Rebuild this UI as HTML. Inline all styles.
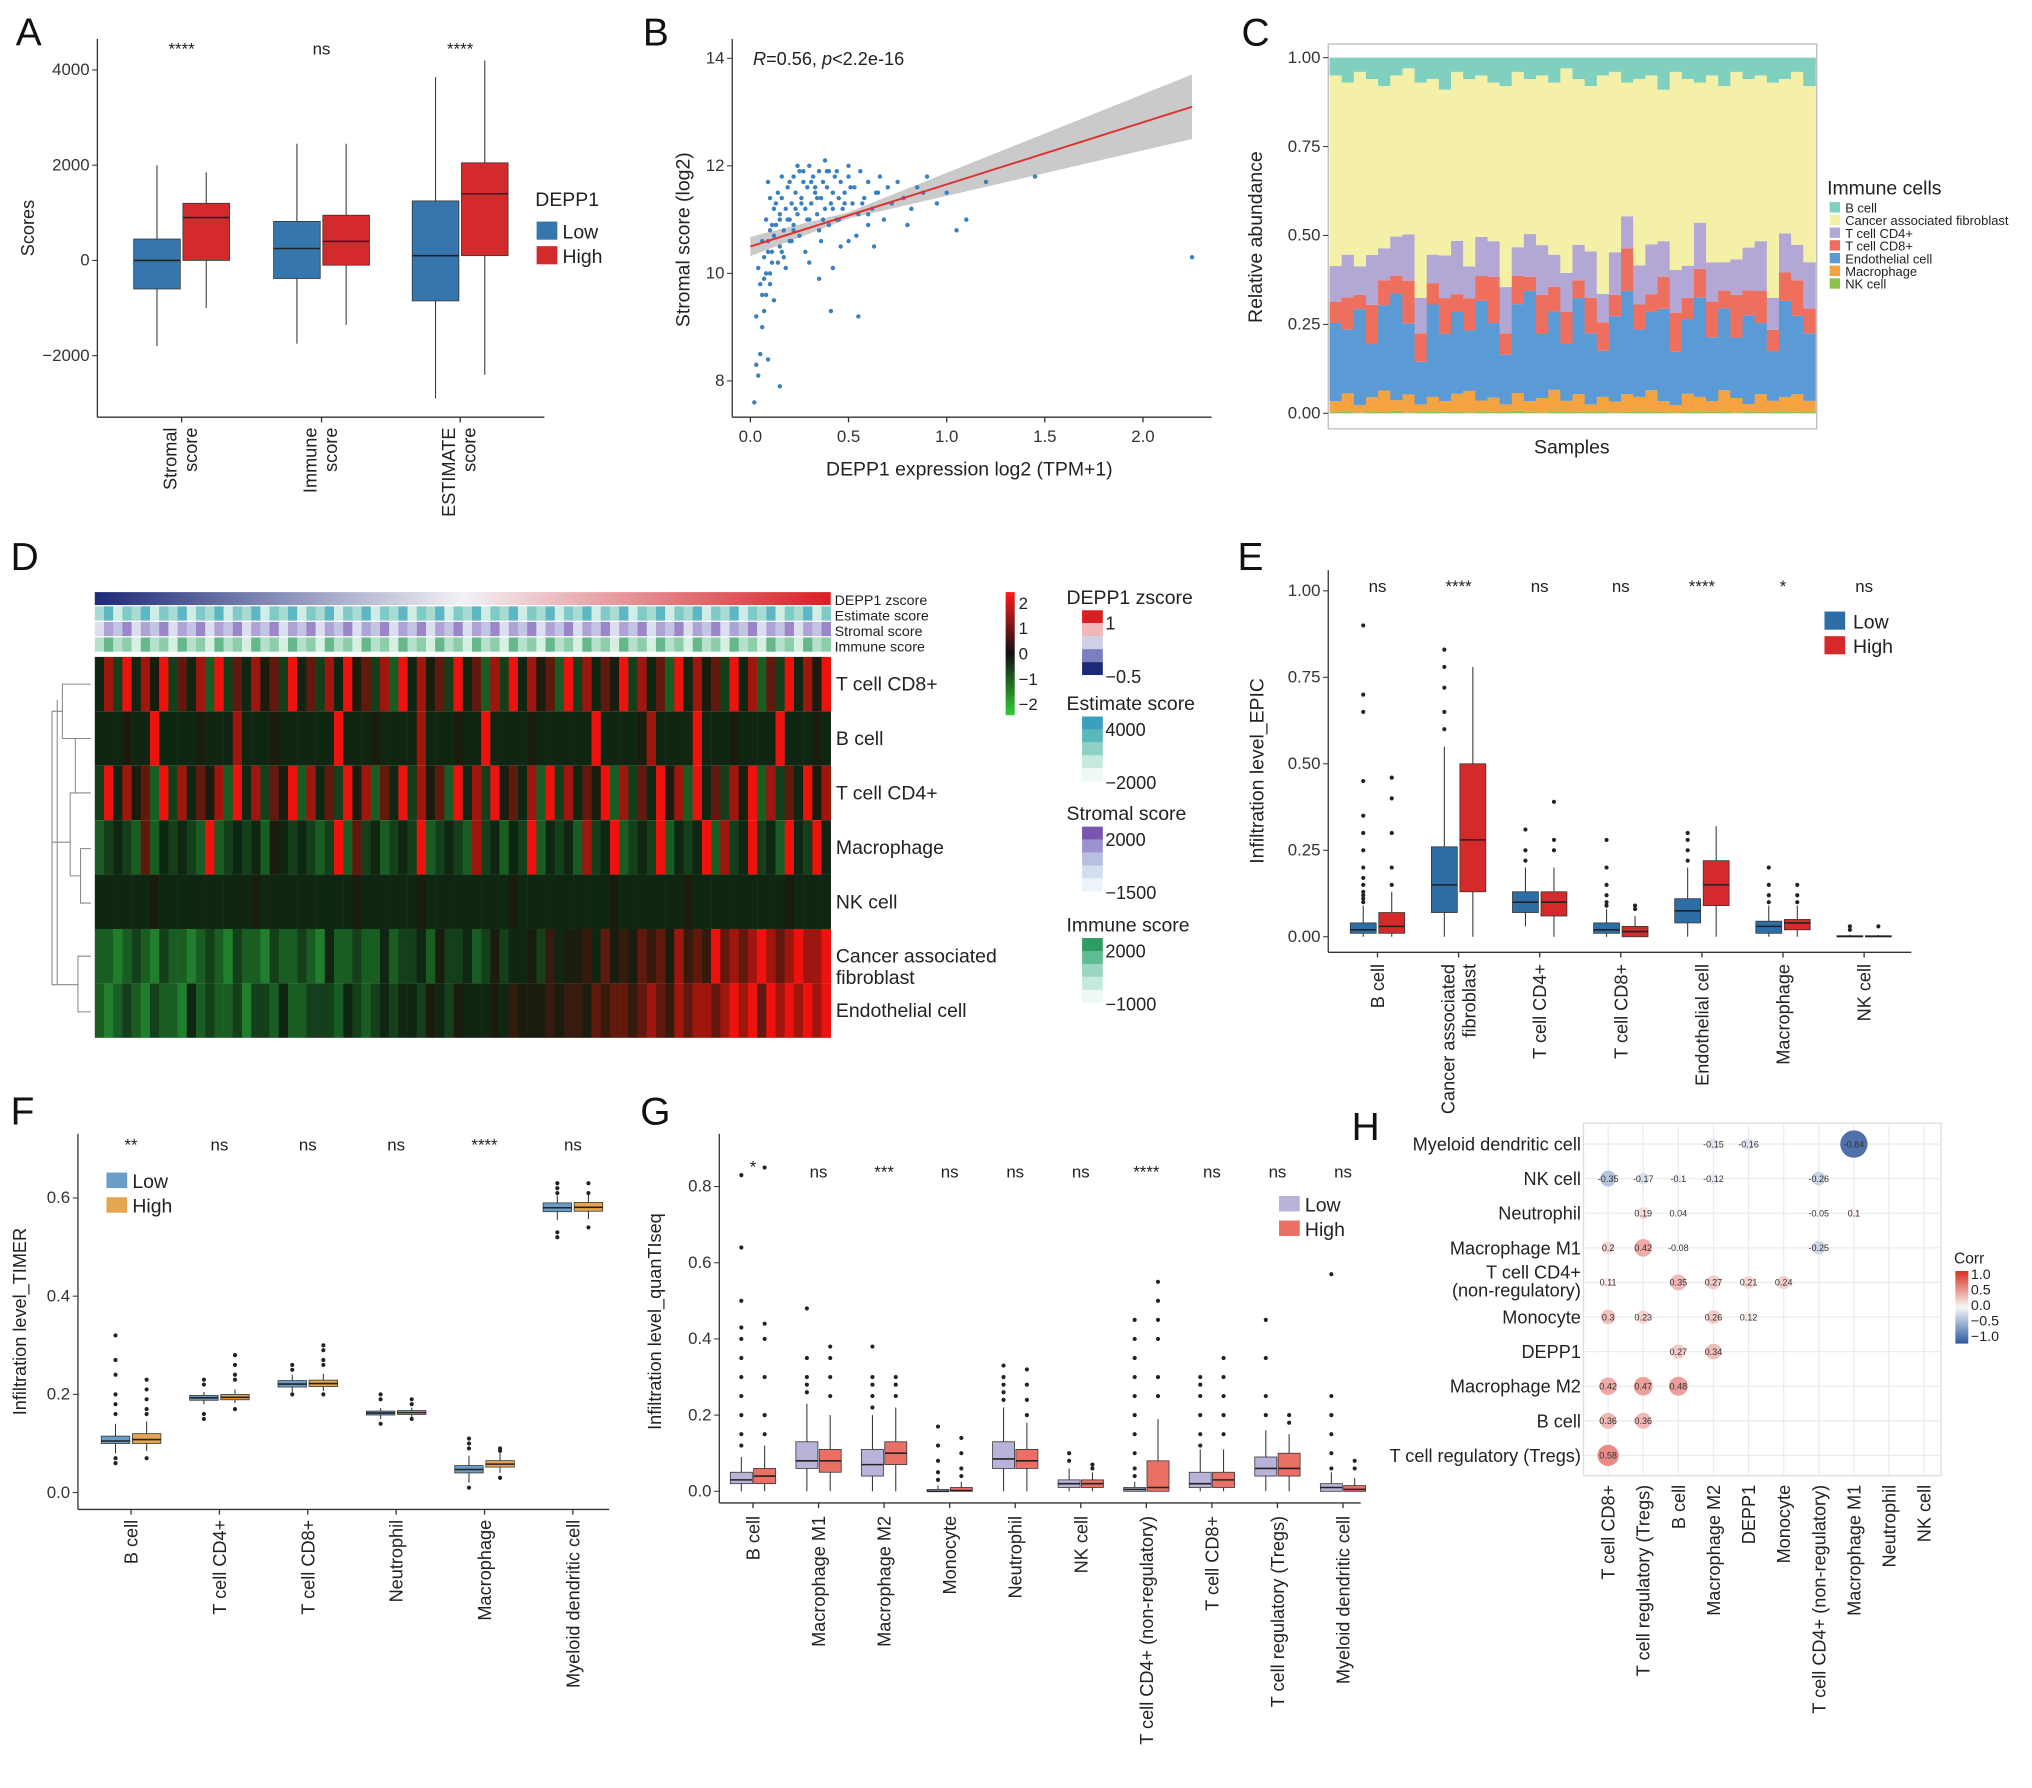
<!DOCTYPE html>
<html><head><meta charset="utf-8">
<style>
html,body{margin:0;padding:0;background:#fff;}
svg{display:block;font-family:"Liberation Sans",Arial,sans-serif;}
</style></head>
<body>
<svg id="fig" width="2032" height="1788" viewBox="0 0 1568 1380" xmlns="http://www.w3.org/2000/svg"></svg>
<script>
// ---------- DATA ----------
// Panel A
const aCats=["Stromal score","Immune score","ESTIMATE score"];
const aSig=["****","ns","****"];
const aLow=[[-1800,-600,0,450,2000],[-1750,-380,250,820,2450],[-2900,-850,100,1250,3850]];
const aHigh=[[-1000,0,900,1200,1850],[-1350,-100,400,950,2450],[-2400,100,1400,2050,4200]];
const aTicks=[-2000,0,2000,4000];
// Panel B
const bX=[0.02,0.04,0.05,0.06,0.07,0.08,0.09,0.1,0.1,0.11,0.12,0.12,0.13,0.14,0.15,0.15,0.16,0.17,0.18,0.18,0.19,0.2,0.2,0.21,0.22,0.22,0.23,0.24,0.25,0.25,0.26,0.27,0.28,0.28,0.29,0.3,0.3,0.31,0.32,0.33,0.34,0.35,0.35,0.36,0.37,0.38,0.39,0.4,0.4,0.41,0.42,0.43,0.44,0.45,0.46,0.47,0.48,0.5,0.5,0.52,0.53,0.55,0.56,0.58,0.6,0.62,0.63,0.65,0.66,0.68,0.7,0.72,0.75,0.78,0.8,0.82,0.85,0.88,0.9,0.95,1.0,1.05,1.1,1.2,1.45,2.25,0.03,0.05,0.07,0.09,0.11,0.13,0.15,0.17,0.19,0.21,0.23,0.26,0.29,0.31,0.34,0.37,0.39,0.42,0.45,0.48,0.51,0.54,0.57,0.6,0.64,0.03,0.06,0.08,0.1,0.12,0.14,0.16,0.2,0.24,0.27,0.33,0.38,0.44,0.5,0.07,0.09,0.11,0.13,0.04,0.06,0.08,0.1,0.16,0.22,0.3,0.36,0.41,0.46,0.55,0.35,0.42,0.6,0.15,0.09];
const bY=[7.6,8.1,8.5,9.0,9.3,9.6,8.4,10.0,9.8,10.4,10.7,9.5,10.9,10.2,11.1,10.5,11.4,10.8,11.2,10.1,11.6,11.0,10.6,11.3,11.8,10.9,11.5,11.1,11.9,10.7,11.4,11.7,11.2,10.4,11.6,12.0,11.0,11.3,11.8,11.5,11.1,11.9,10.8,11.4,11.7,11.2,11.6,11.9,10.9,11.3,11.5,11.8,11.0,11.4,11.7,11.2,11.5,11.8,10.6,11.3,11.6,11.1,11.9,11.4,11.7,11.2,10.5,11.5,11.8,11.0,11.6,11.3,11.7,11.4,10.9,11.2,11.6,11.5,11.8,11.3,11.5,10.8,11.0,11.7,11.8,10.3,9.2,9.8,10.3,10.6,10.2,10.9,11.0,10.3,11.0,10.6,11.2,11.3,11.0,11.7,11.4,11.0,11.9,11.2,11.0,11.3,11.6,10.7,11.3,11.1,11.5,8.3,9.6,10.0,10.8,11.2,11.5,11.8,11.7,12.0,11.9,11.6,12.1,11.9,12.0,9.9,10.4,10.9,11.3,10.1,10.6,11.0,11.4,10.4,10.8,10.2,10.6,9.3,10.5,9.2,9.9,10.1,10.9,7.9,11.7];
const bXTicks=[0.0,0.5,1.0,1.5,2.0];
const bYTicks=[8,10,12,14];
// Panel C
const cNK=[.004,.006,.003,.005,.004,.007,.003,.005,.006,.004,.005,.003,.006,.004,.005,.007,.004,.003,.006,.005,.004,.005,.006,.003,.004,.006,.005,.004,.003,.005,.006,.004,.005,.003,.006,.004,.005,.006,.004,.005];
const cMac=[.03,.05,.02,.04,.06,.03,.05,.02,.04,.03,.05,.06,.03,.04,.02,.05,.03,.04,.06,.03,.05,.02,.04,.03,.05,.04,.06,.03,.02,.05,.04,.03,.06,.04,.02,.05,.03,.04,.05,.03];
const cEndo=[.22,.18,.27,.15,.24,.3,.2,.12,.26,.19,.23,.17,.28,.21,.14,.25,.31,.18,.22,.16,.27,.2,.13,.24,.29,.19,.22,.26,.15,.21,.28,.18,.23,.17,.25,.2,.14,.27,.22,.19];
const cCD8=[.06,.09,.04,.11,.07,.05,.12,.08,.06,.1,.05,.09,.07,.13,.06,.08,.04,.11,.07,.09,.05,.1,.08,.06,.12,.07,.05,.09,.11,.06,.08,.1,.05,.12,.07,.09,.06,.08,.1,.07];
const cCD4=[.1,.12,.08,.14,.09,.11,.13,.1,.08,.12,.15,.09,.11,.1,.13,.08,.12,.14,.09,.11,.1,.13,.08,.12,.09,.11,.14,.1,.12,.09,.13,.11,.08,.1,.12,.14,.09,.11,.1,.13];
const cB=[.05,.07,.04,.06,.08,.05,.03,.07,.06,.09,.04,.06,.05,.07,.08,.04,.06,.05,.07,.03,.06,.08,.05,.04,.07,.06,.05,.09,.04,.06,.07,.05,.08,.04,.06,.05,.07,.06,.04,.08];
const cYTicks=[0,0.25,0.5,0.75,1.0];
const cLegend=["B cell","Cancer associated fibroblast","T cell CD4+","T cell CD8+","Endothelial cell","Macrophage","NK cell"];
// Panel D heatmap
const dRows=["T cell CD8+","B cell","T cell CD4+","Macrophage","NK cell","Cancer associated fibroblast","Endothelial cell"];
const dCells=[
"48394859374829374857394738495738294857394728394857293847593847294857394827394859",
"44454494444544484445444444944454444844454494444544444494444584444944454444944454",
"39485729384758294837592847395827493857294839574829384759283749582947385928374958",
"23432724343292343425434323927342343923432834243924342834923439243492834934294394",
"44444454444444444544444444445444444544444444454444444444544444445444444444454444",
"22123213221232132213223214223224233425334235344536455647565767586769787898789889",
"21232132214232231332422333243234344354354445465556566576776787687887898979898989"];
const dEst="35243524352435243524352435243524352435243524352435243524352435243524352435243524";
const dStr="24352435243524352435243524352435243524352435243524352435243524352435243524352435";
const dImm="35342534253425342534253425342534253425342534253425342534253425342534253425342534";
// Panel E
const eCats=["B cell","Cancer associated\nfibroblast","T cell CD4+","T cell CD8+","Endothelial cell","Macrophage","NK cell"];
const eSig=["ns","****","ns","ns","****","*","ns"];
const eLow=[[0,.01,.02,.04,.09],[0,.07,.15,.26,.55],[.03,.07,.1,.13,.2],[0,.01,.02,.04,.08],[0,.04,.075,.11,.2],[0,.01,.03,.045,.09],[0,0,.001,.003,.005]];
const eHigh=[[0,.01,.03,.07,.13],[0,.13,.28,.5,.78],[0,.06,.1,.13,.2],[0,0,.015,.03,.06],[0,.09,.15,.22,.32],[0,.02,.04,.05,.09],[0,0,.001,.003,.005]];
const eOutLow=[[.9,.7,.65,.45,.35,.3,.25,.2,.17,.15,.13,.12,.11,.1],[.83,.78,.72,.65,.6],[.31,.25,.22],[.28,.2,.15,.12,.1,.09],[.3,.28,.25,.22],[.2,.15,.12,.1],[.03,.02]];
const eOutHigh=[[.46,.4,.3,.2,.15],[],[.39,.28,.25],[.09,.08],[],[.15,.12,.1],[.03]];
const eTicks=[0,.25,.5,.75,1.0];
// Panel F
const fCats=["B cell","T cell CD4+","T cell CD8+","Neutrophil","Macrophage","Myeloid  dendritic cell"];
const fSig=["**","ns","ns","ns","****","ns"];
const fLow=[[.08,.1,.105,.115,.14],[.18,.188,.193,.198,.205],[.205,.215,.221,.228,.24],[.15,.158,.162,.166,.172],[.02,.04,.047,.055,.075],[.555,.572,.58,.59,.605]];
const fHigh=[[.085,.1,.108,.12,.145],[.182,.189,.194,.2,.21],[.207,.216,.222,.229,.242],[.152,.159,.163,.167,.173],[.04,.052,.058,.065,.08],[.557,.573,.581,.591,.606]];
const fOutLow=[[.32,.27,.24,.2,.18,.16,.07,.06],[.23,.22,.16,.15],[.26,.25,.2],[.2,.19,.14],[.11,.1,.09,.01],[.63,.62,.61,.53,.52]];
const fOutHigh=[[.23,.21,.19,.17,.16,.07],[.28,.26,.24,.23,.17],[.3,.29,.27,.26,.2],[.19,.18,.15],[.09,.085,.03],[.63,.61,.54]];
const fTicks=[0,.2,.4,.6];
// Panel G
const gCats=["B cell","Macrophage M1","Macrophage M2","Monocyte","Neutrophil","NK cell","T cell CD4+ (non-regulatory)","T cell CD8+","T cell regulatory (Tregs)","Myeloid  dendritic cell"];
const gSig=["*","ns","***","ns","ns","ns","****","ns","ns","ns"];
const gLow=[[0,.02,.03,.05,.09],[0,.06,.08,.13,.23],[0,.04,.07,.11,.2],[0,0,0,.005,.015],[0,.06,.085,.13,.22],[0,.01,.02,.03,.06],[0,0,.005,.01,.025],[0,.01,.02,.05,.11],[0,.04,.06,.09,.16],[0,0,.01,.02,.05]];
const gHigh=[[0,.02,.04,.06,.12],[0,.05,.08,.11,.2],[0,.07,.1,.13,.22],[0,0,.002,.01,.025],[0,.06,.08,.11,.18],[0,.01,.02,.03,.05],[0,0,.01,.08,.19],[0,.01,.03,.05,.11],[0,.04,.06,.1,.15],[0,0,.005,.015,.035]];
const gOutLow=[[.83,.64,.5,.43,.4,.35,.3,.25,.2,.15,.12],[.48,.35,.3,.28,.26],[.38,.3,.28,.25,.22],[.17,.12,.08,.05,.03],[.33,.3,.28,.26,.24],[.1,.08],[.45,.4,.35,.3,.25,.2,.15,.1,.06,.04],[.3,.28,.25,.2,.15,.12],[.45,.35,.25,.2],[.57,.25,.2,.15,.1,.06]];
const gOutHigh=[[.85,.44,.4,.3,.2,.15],[.38,.35,.3,.25],[.3,.28,.25],[.14,.1,.06,.04],[.32,.28,.24,.2],[.07,.06],[.55,.5,.45,.4,.3,.25],[.35,.3,.25,.2,.15],[.2,.18],[.08,.06]];
const gTicks=[0,.2,.4,.6,.8];
// Panel H
const hCols=["T cell CD8+","T cell regulatory (Tregs)","B cell","Macrophage M2","DEPP1","Monocyte","T cell CD4+ (non-regulatory)","Macrophage M1","Neutrophil","NK cell"];
const hRows=["Myeloid dendritic cell","NK cell","Neutrophil","Macrophage M1","T cell CD4+\n(non-regulatory)","Monocyte","DEPP1","Macrophage M2","B cell","T cell regulatory (Tregs)"];
const hVals=[
[null,null,null,-0.15,-0.16,null,null,-0.84,null,null],
[-0.35,-0.17,-0.1,-0.12,null,null,-0.26,null,null,null],
[null,0.19,0.04,null,null,null,-0.05,0.1,null,null],
[0.2,0.42,-0.08,null,null,null,-0.25,null,null,null],
[0.11,null,0.35,0.27,0.21,0.24,null,null,null,null],
[0.3,0.23,null,0.26,0.12,null,null,null,null,null],
[null,null,0.27,0.34,null,null,null,null,null,null],
[0.42,0.47,0.48,null,null,null,null,null,null,null],
[0.36,0.36,null,null,null,null,null,null,null,null],
[0.58,null,null,null,null,null,null,null,null,null]];

// ---------- HELPERS ----------
const NS="http://www.w3.org/2000/svg";
const root=document.getElementById('fig');
function mk(tag,attrs,parent,name,inter){
  const e=document.createElementNS(NS,tag);
  for(const k in attrs) e.setAttribute(k,attrs[k]);
  
  
  (parent||root).appendChild(e);return e;
}
function txt(x,y,s,size,parent,name,opts){
  opts=opts||{};
  const a={x:x,y:y,'font-size':size,fill:opts.fill||'#222'};
  if(opts.anchor)a['text-anchor']=opts.anchor;
  if(opts.rot!==undefined)a.transform='rotate('+opts.rot+' '+x+' '+y+')';
  const t=mk('text',a,parent,name);
  const lines=String(s).split('\n');
  if(lines.length===1)t.textContent=s;
  else lines.forEach((l,i)=>{const sp=mk('tspan',{x:x,dy:i?size*1.1:0},t,name+'-line');sp.textContent=l;});
  return t;
}
function g(name){return mk('g',{},root,name);}
function box(parent,cx,w,q,ys,fill,name){
  const gg=mk('g',{},parent,name);
  mk('line',{x1:cx,x2:cx,y1:ys(q[0]),y2:ys(q[4]),stroke:'#333','stroke-width':0.8},gg,name+'-whisker');
  mk('rect',{x:cx-w/2,y:ys(q[3]),width:w,height:Math.max(0.8,ys(q[1])-ys(q[3])),fill:fill,stroke:'#333','stroke-width':0.6},gg,name+'-box');
  mk('line',{x1:cx-w/2,x2:cx+w/2,y1:ys(q[2]),y2:ys(q[2]),stroke:'#222','stroke-width':1.2},gg,name+'-median');
  return gg;
}
function outl(parent,cx,arr,ys,name){
  arr.forEach(v=>{mk('circle',{cx:cx,cy:ys(v),r:1.6,fill:'#222'},parent,name);});
}
function yaxis(parent,x,ticks,ys,fmt,name){
  ticks.forEach(t=>{
    mk('line',{x1:x-4,x2:x,y1:ys(t),y2:ys(t),stroke:'#333','stroke-width':0.8},parent,name+'-tick');
    txt(x-6,ys(t)+4,fmt(t),13,parent,name+'-label',{anchor:'end',fill:'#333'});
  });
}
function frameL(parent,x0,y0,x1,y1,name){
  mk('line',{x1:x0,x2:x0,y1:y0,y2:y1,stroke:'#333','stroke-width':1},parent,name+'-y-axis');
  mk('line',{x1:x0,x2:x1,y1:y1,y2:y1,stroke:'#333','stroke-width':1},parent,name+'-x-axis');
}
function letter(s,x,y){txt(x,y,s,30,root,'panel-label-'+s.toLowerCase(),{fill:'#111'});}

// ---------- PANEL A ----------
(function(){
  const p=g('panel-a');
  const ys=v=>201-(v/2000)*73.5;
  frameL(p,75,30,420,322,'panel-a');
  yaxis(p,75,aTicks,ys,v=>v<0?'\u2212'+(-v):String(v),'panel-a-y');
  txt(26,176,'Scores',14,p,'panel-a-y-title',{anchor:'middle',rot:-90});
  const xs=[140,248,355];
  aCats.forEach((c,i)=>{
    box(p,xs[i]-19,36,aLow[i],ys,'#3776ad','box-low-'+i);
    box(p,xs[i]+19,36,aHigh[i],ys,'#d42a2b','box-high-'+i);
    txt(xs[i],42,aSig[i],13,p,'significance-label',{anchor:'middle'});
    mk('line',{x1:xs[i],x2:xs[i],y1:322,y2:326,stroke:'#333'},p,'x-tick');
    const parts=c.split(' ');
    txt(xs[i]-4,330,parts[0],14,p,'x-label',{anchor:'end',rot:-90});
    txt(xs[i]+12,330,parts[1],14,p,'x-label',{anchor:'end',rot:-90});
  });
  txt(413,159,'DEPP1',15,p,'legend-title');
  mk('rect',{x:414,y:171,width:16,height:14,fill:'#3776ad'},p,'legend-key-low');
  txt(434,184,'Low',15,p,'legend-low');
  mk('rect',{x:414,y:190,width:16,height:14,fill:'#d42a2b'},p,'legend-key-high');
  txt(434,203,'High',15,p,'legend-high');
})();

// ---------- PANEL B ----------
(function(){
  const p=g('panel-b');
  const xs=v=>579+v*151.5, ys=v=>211-(v-10)*41.5;
  frameL(p,565,30,935,322,'panel-b');
  yaxis(p,565,bYTicks,ys,String,'panel-b-y');
  bXTicks.forEach(t=>{mk('line',{x1:xs(t),x2:xs(t),y1:322,y2:326,stroke:'#333'},p,'x-tick');txt(xs(t),341,t.toFixed(1),13,p,'x-tick-label',{anchor:'middle',fill:'#333'});});
  txt(748,367,'DEPP1 expression log2 (TPM+1)',15,p,'x-axis-title',{anchor:'middle'});
  txt(532,185,'Stromal score (log2)',15,p,'y-axis-title',{anchor:'middle',rot:-90});
  const x0=0,x1=2.25,l=v=>10.5+v*1.155;
  mk('path',{d:'M'+xs(x0)+' '+ys(l(x0)+0.18)+' L'+xs(0.5)+' '+ys(l(0.5)+0.06)+' L'+xs(x1)+' '+ys(l(x1)+0.6)+' L'+xs(x1)+' '+ys(l(x1)-0.6)+' L'+xs(0.5)+' '+ys(l(0.5)-0.06)+' L'+xs(x0)+' '+ys(l(x0)-0.18)+'Z',fill:'#bdbdbd',opacity:0.8},p,'confidence-band');
  bX.forEach((x,i)=>{mk('circle',{cx:xs(x),cy:ys(bY[i]),r:1.7,fill:'#3a80c0'},p,'scatter-point');});
  mk('line',{x1:xs(x0),y1:ys(l(x0)),x2:xs(x1),y2:ys(l(x1)),stroke:'#e03030','stroke-width':1.5},p,'regression-line');
  const t=txt(581,50,'',14,p,'correlation-label');
  t.innerHTML='<tspan font-style="italic">R</tspan>=0.56, <tspan font-style="italic">p</tspan>&lt;2.2e-16';
})();

// ---------- PANEL C ----------
(function(){
  const p=g('panel-c');
  const ys=v=>319-v*274.5;
  mk('rect',{x:1025,y:34,width:377,height:297,fill:'none',stroke:'#bbb','stroke-width':1},p,'panel-c-frame');
  yaxis(p,1025,cYTicks,ys,v=>v.toFixed(2),'panel-c-y');
  txt(974,183,'Relative abundance',15,p,'y-axis-title',{anchor:'middle',rot:-90});
  txt(1213,350,'Samples',15,p,'x-axis-title',{anchor:'middle'});
  const cols={nk:'#8bc34a',mac:'#f4a340',endo:'#5b9bd5',cd8:'#ef6f5e',cd4:'#b3a7d6',caf:'#f5f0a8',b:'#7fd0bf'};
  const n=cNK.length,bw=375/n;
  for(let i=0;i<n;i++){
    const x=1026+i*bw;let acc=0;
    const seg=[[cNK[i],cols.nk,'nk'],[cMac[i],cols.mac,'macrophage'],[cEndo[i],cols.endo,'endothelial'],[cCD8[i],cols.cd8,'cd8'],[cCD4[i],cols.cd4,'cd4']];
    const sum=seg.reduce((a,s)=>a+s[0],0)+cB[i];
    seg.splice(5,0,[1-sum,cols.caf,'caf']);seg.push([cB[i],cols.b,'bcell']);
    seg.forEach(s=>{mk('rect',{x:x,y:ys(acc+s[0]),width:bw+0.3,height:s[0]*274.5,fill:s[1]},p,'bar-'+s[2]);acc+=s[0];});
  }
  txt(1410,150,'Immune cells',15,p,'legend-title');
  const lc=[cols.b,cols.caf,cols.cd4,cols.cd8,cols.endo,cols.mac,cols.nk];
  cLegend.forEach((s,i)=>{mk('rect',{x:1412,y:156+i*9.8,width:8,height:8,fill:lc[i]},p,'legend-key');txt(1424,164+i*9.8,s,10,p,'legend-entry');});
})();

// ---------- PANEL D ----------
(function(){
  const p=g('panel-d');
  const x0=73,x1=641,n=dCells[0].length,cw=(x1-x0)/n;
  const gr=mk('linearGradient',{id:'zg',x1:0,x2:1,y1:0,y2:0},p,'zscore-gradient');
  [['0','#1c2a78'],['0.5','#f2f2f6'],['1','#d71f24']].forEach(s=>mk('stop',{offset:s[0],'stop-color':s[1]},gr,'gradient-stop'));
  mk('rect',{x:x0,y:457,width:x1-x0,height:10,fill:'url(#zg)'},p,'depp1-zscore-bar');
  const ann=[[dEst,468,['#eaf6f4','#cfece6','#a8dcd3','#7fc9c6','#5db6c3']],[dStr,480,['#eef0f8','#dcdff0','#c4c4e4','#aea3d6','#9a86c8']],[dImm,492,['#eef8f2','#d6efe3','#b5e0cb','#8ccdaa','#64b88a']]];
  ann.forEach((a,k)=>{for(let i=0;i<n;i++){const d=+a[0][i]-1;mk('rect',{x:x0+i*cw,y:a[1],width:cw+0.2,height:11,fill:a[2][Math.max(0,Math.min(4,d))]},p,'annotation-cell');}});
  const labs=['DEPP1 zscore','Estimate score','Stromal score','Immune score'];
  labs.forEach((s,i)=>txt(644,467+i*12,s,11,p,'annotation-label'));
  const rh=42,ry=507;
  function hc(d){const v=(d-4.5)/4.5;if(v>=0){const t=Math.pow(v,1.8);return 'rgb('+Math.round(22+t*215)+','+Math.round(28-t*10)+','+Math.round(14)+')';}const t=Math.pow(-v,1.3);return 'rgb('+Math.round(14+t*25)+','+Math.round(32+t*130)+','+Math.round(16+t*40)+')';}
  dCells.forEach((row,r)=>{
    for(let i=0;i<n;i++){mk('rect',{x:x0+i*cw,y:ry+r*rh,width:cw+0.2,height:rh,fill:hc(+row[i])},p,'heatmap-cell');}
    txt(645,ry+r*rh+rh/2+5,dRows[r]==='Cancer associated fibroblast'?'Cancer associated\nfibroblast':dRows[r],15,p,'row-label');
  });
  const dd='M70 528 H48 V570 H70 M70 612 H58 V570 H48 M58 612 H58 M70 655 H62 V697 H70 M62 676 H54 V612 H58 M70 738 H60 V781 H70 M60 760 H44 V540 M48 549 H40 V650 H54 M40 650 H40 V760 H44';
  mk('path',{d:dd,fill:'none',stroke:'#888','stroke-width':0.8},p,'dendrogram');
  const cb=mk('linearGradient',{id:'cbg',x1:0,x2:0,y1:0,y2:1},p,'heatmap-colorbar-gradient');
  [['0','#ff1a1a'],['0.5','#111'],['1','#33cc33']].forEach(s=>mk('stop',{offset:s[0],'stop-color':s[1]},cb,'gradient-stop'));
  mk('rect',{x:776,y:457,width:7,height:95,fill:'url(#cbg)'},p,'heatmap-colorbar');
  ['2','1','0','\u22121','\u22122'].forEach((s,i)=>txt(786,470+i*19.5,s,13,p,'colorbar-label'));
  const L=[['DEPP1 zscore',466,['#d71f24','#f3b5b8','#cfcfe6','#7c7fbf','#1c2a78'],['1','\u22120.5']],['Estimate score',548,['#3aa0c0','#58b8bb','#8fd0c4','#c5e8df','#eef8f5'],['4000','\u22122000']],['Stromal score',633,['#7a55b0','#9d92cf','#b9bfe2','#d3def0','#eef3fa'],['2000','\u22121500']],['Immune score',719,['#2f9c64','#5fbb91','#9ad6c0','#c6e9df','#eef8f4'],['2000','\u22121000']]];
  L.forEach(l=>{txt(823,l[1],l[0],15,p,'annotation-legend-title');l[2].forEach((c,i)=>mk('rect',{x:835,y:l[1]+5+i*10,width:16,height:10,fill:c},p,'annotation-legend-key'));txt(853,l[1]+20,l[3][0],14,p,'annotation-legend-label');txt(853,l[1]+61,l[3][1],14,p,'annotation-legend-label');});
})();

// ---------- PANEL E ----------
(function(){
  const p=g('panel-e');
  const ys=v=>723-v*267;
  frameL(p,1025,440,1475,735,'panel-e');
  yaxis(p,1025,eTicks,ys,v=>v.toFixed(2),'panel-e-y');
  txt(975,595,'Infiltration level_EPIC',15,p,'y-axis-title',{anchor:'middle',rot:-90});
  eCats.forEach((c,i)=>{
    const cx=1063+i*62.6;
    box(p,cx-11,20,eLow[i],ys,'#2e6ea6','box-low-'+i);
    box(p,cx+11,20,eHigh[i],ys,'#d42a2b','box-high-'+i);
    outl(p,cx-11,eOutLow[i],ys,'outlier');outl(p,cx+11,eOutHigh[i],ys,'outlier');
    txt(cx,457,eSig[i],13,p,'significance-label',{anchor:'middle'});
    mk('line',{x1:cx,x2:cx,y1:735,y2:739,stroke:'#333'},p,'x-tick');
    const parts=c.split('\n');
    if(parts.length===1)txt(cx+5,744,c,14,p,'x-label',{anchor:'end',rot:-90});
    else{txt(cx-3,744,parts[0],14,p,'x-label',{anchor:'end',rot:-90});txt(cx+13,744,parts[1],14,p,'x-label',{anchor:'end',rot:-90});}
  });
  mk('rect',{x:1408,y:472,width:16,height:14,fill:'#2e6ea6'},p,'legend-key-low');txt(1430,485,'Low',15,p,'legend-low');
  mk('rect',{x:1408,y:491,width:16,height:14,fill:'#d42a2b'},p,'legend-key-high');txt(1430,504,'High',15,p,'legend-high');
})();

// ---------- PANEL F ----------
(function(){
  const p=g('panel-f');
  const ys=v=>1152-v*379;
  frameL(p,60,875,470,1165,'panel-f');
  yaxis(p,60,fTicks,ys,v=>v.toFixed(1),'panel-f-y');
  txt(20,1020,'Infiltration level_TIMER',14,p,'y-axis-title',{anchor:'middle',rot:-90});
  fCats.forEach((c,i)=>{
    const cx=101+i*68.2;
    box(p,cx-12,22,fLow[i],ys,'#6b9dc9','box-low-'+i);
    box(p,cx+12,22,fHigh[i],ys,'#e5a650','box-high-'+i);
    outl(p,cx-12,fOutLow[i],ys,'outlier');outl(p,cx+12,fOutHigh[i],ys,'outlier');
    txt(cx,888,fSig[i],13,p,'significance-label',{anchor:'middle'});
    mk('line',{x1:cx,x2:cx,y1:1165,y2:1169,stroke:'#333'},p,'x-tick');
    txt(cx+5,1173,c,14,p,'x-label',{anchor:'end',rot:-90});
  });
  mk('rect',{x:82,y:905,width:16,height:12,fill:'#6b9dc9'},p,'legend-key-low');txt(102,917,'Low',15,p,'legend-low');
  mk('rect',{x:82,y:924,width:16,height:12,fill:'#e5a650'},p,'legend-key-high');txt(102,936,'High',15,p,'legend-high');
})();

// ---------- PANEL G ----------
(function(){
  const p=g('panel-g');
  const ys=v=>1151-v*294;
  frameL(p,555,875,1050,1160,'panel-g');
  yaxis(p,555,gTicks,ys,v=>v.toFixed(1),'panel-g-y');
  txt(510,1020,'Infiltration level_quanTIseq',14,p,'y-axis-title',{anchor:'middle',rot:-90});
  gCats.forEach((c,i)=>{
    const cx=581+i*50.6;
    box(p,cx-9,17,gLow[i],ys,'#b9b2d9','box-low-'+i);
    box(p,cx+9,17,gHigh[i],ys,'#ea7066','box-high-'+i);
    outl(p,cx-9,gOutLow[i],ys,'outlier');outl(p,cx+9,gOutHigh[i],ys,'outlier');
    txt(cx,i===0?905:909,gSig[i],13,p,'significance-label',{anchor:'middle'});
    mk('line',{x1:cx,x2:cx,y1:1160,y2:1164,stroke:'#333'},p,'x-tick');
    txt(cx+5,1170,c,14,p,'x-label',{anchor:'end',rot:-90});
  });
  mk('rect',{x:987,y:923,width:16,height:12,fill:'#b9b2d9'},p,'legend-key-low');txt(1007,935,'Low',15,p,'legend-low');
  mk('rect',{x:987,y:942,width:16,height:12,fill:'#ea7066'},p,'legend-key-high');txt(1007,954,'High',15,p,'legend-high');
})();

// ---------- PANEL H ----------
(function(){
  const p=g('panel-h');
  mk('rect',{x:1222,y:867,width:276,height:272,fill:'#fff',stroke:'#ddd'},p,'panel-h-frame');
  const cx=j=>1241+j*27.1, cy=i=>883+i*26.7;
  for(let j=0;j<10;j++)mk('line',{x1:cx(j),x2:cx(j),y1:868,y2:1138,stroke:'#ececec'},p,'grid-line');
  for(let i=0;i<10;i++)mk('line',{x1:1223,x2:1497,y1:cy(i),y2:cy(i),stroke:'#ececec'},p,'grid-line');
  function col(v){const t=Math.abs(v);if(v>=0){return 'rgb('+Math.round(255-t*40)+','+Math.round(255-t*200)+','+Math.round(255-t*210)+')';}return 'rgb('+Math.round(255-t*210)+','+Math.round(255-t*170)+','+Math.round(255-t*100)+')';}
  hVals.forEach((row,i)=>row.forEach((v,j)=>{
    if(v===null)return;
    mk('circle',{cx:cx(j),cy:cy(i),r:3+Math.abs(v)*9,fill:col(v)},p,'corr-dot');
    txt(cx(j),cy(i)+2.5,String(v),7,p,'corr-value',{anchor:'middle',fill:'#333'});
  }));
  hRows.forEach((s,i)=>{
    const parts=s.split('\n');
    if(parts.length===1)txt(1220,cy(i)+5,s,14,p,'row-label',{anchor:'end'});
    else{txt(1220,cy(i)-3,parts[0],14,p,'row-label',{anchor:'end'});txt(1220,cy(i)+11,parts[1],14,p,'row-label',{anchor:'end'});}
  });
  hCols.forEach((s,j)=>txt(cx(j)+5,1146,s,14,p,'col-label',{anchor:'end',rot:-90}));
  txt(1508,975,'Corr',12,p,'legend-title');
  const cg=mk('linearGradient',{id:'hg',x1:0,x2:0,y1:0,y2:1},p,'corr-gradient');
  [['0','#d7301f'],['0.5','#f7f7f7'],['1','#2b5aa0']].forEach(s=>mk('stop',{offset:s[0],'stop-color':s[1]},cg,'gradient-stop'));
  mk('rect',{x:1509,y:981,width:10,height:56,fill:'url(#hg)'},p,'corr-colorbar');
  ['1.0','0.5','0.0','\u22120.5','\u22121.0'].forEach((s,i)=>txt(1521,987+i*12,s,11,p,'corr-colorbar-label'));
})();

letter('A',12,35);letter('B',496,35);letter('C',958,35);letter('D',8,440);letter('E',955,440);letter('F',8,868);letter('G',494,868);letter('H',1043,880);
</script>
</body></html>
